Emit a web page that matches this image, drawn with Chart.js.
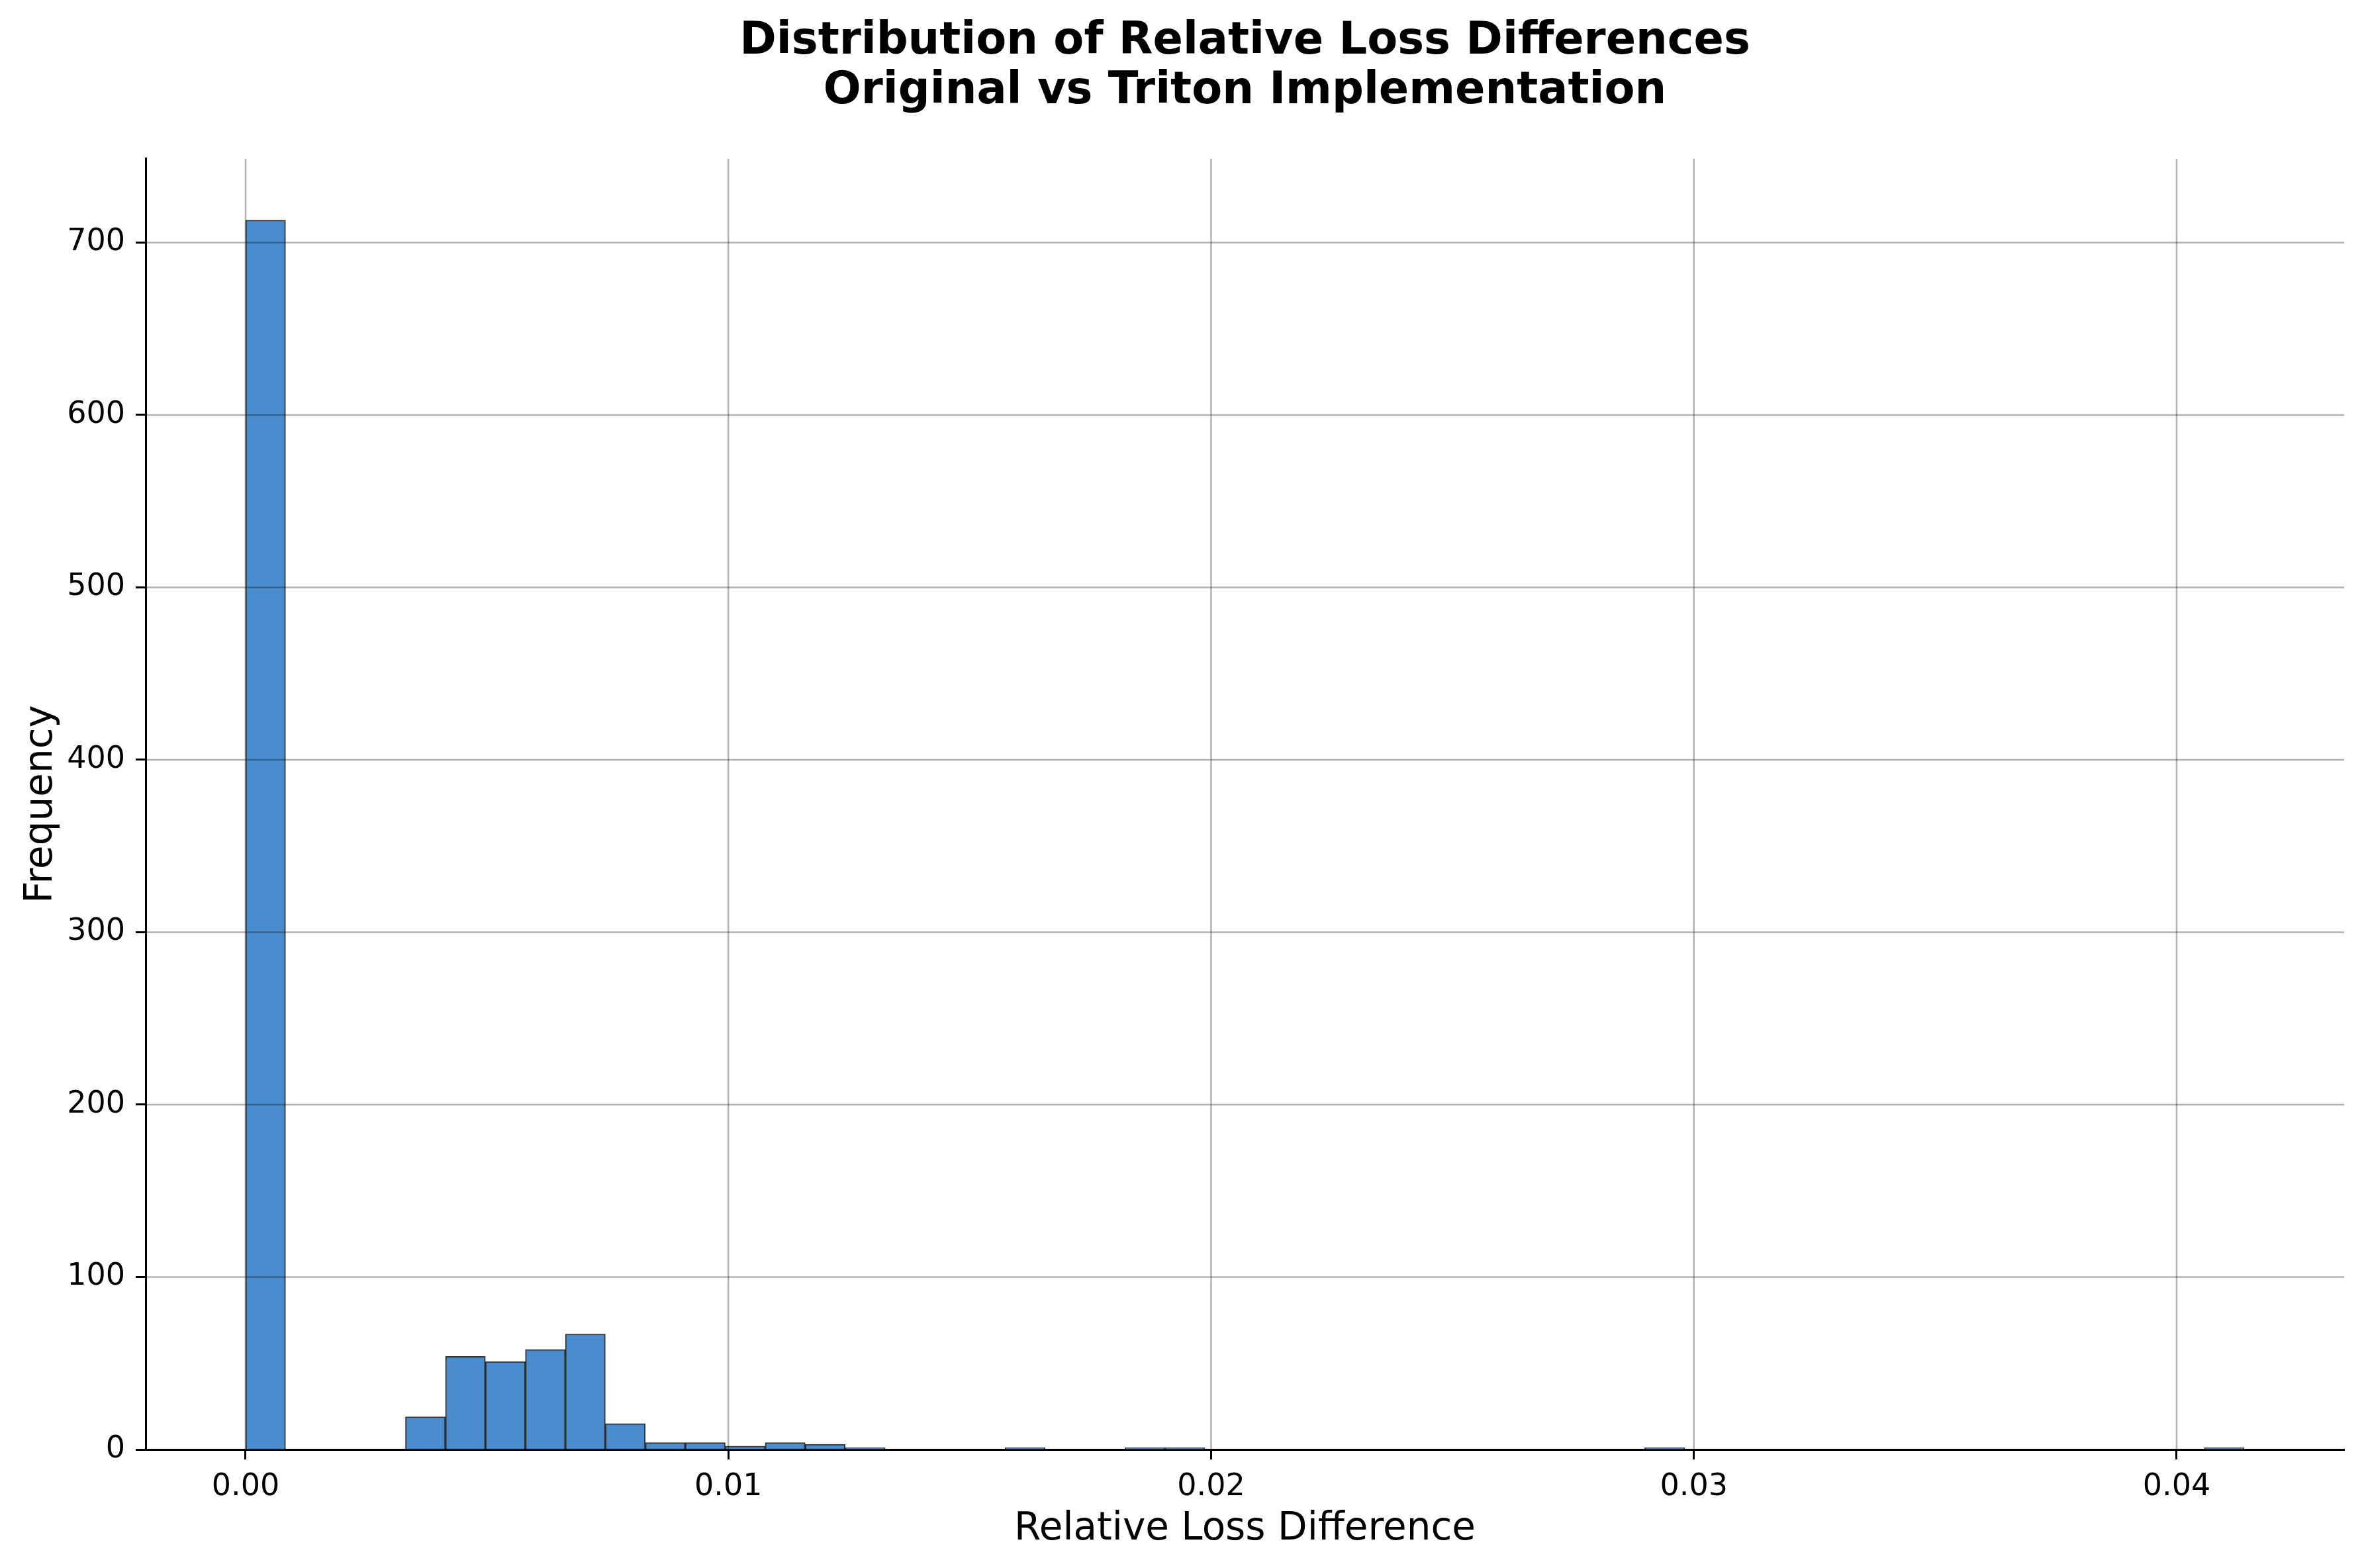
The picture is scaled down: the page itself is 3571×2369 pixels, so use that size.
<!DOCTYPE html>
<html>
<head>
<meta charset="utf-8">
<script src="https://cdn.jsdelivr.net/npm/chart.js@4.4.1/dist/chart.umd.min.js"></script>
<style>
  html, body { margin: 0; padding: 0; background: #fff; }
  canvas { display: block; }
</style>
</head>
<body>
<canvas id="hist" width="3571" height="2369"></canvas>
<script>
// histogram: 50 equal bins between binLow and binHigh
const binLow = 0;
const binHigh = 0.0414;
const counts = [
    713, 0, 0, 0, 19, 54, 51, 58, 67, 15,
    4, 4, 2, 4, 3, 1, 0, 0, 0, 1,
    0, 0, 1, 1, 0, 0, 0, 0, 0, 0,
    0, 0, 0, 0, 0, 1, 0, 0, 0, 0,
    0, 0, 0, 0, 0, 0, 0, 0, 0, 1
];
const xTicks = [0, 0.01, 0.02, 0.03, 0.04];
const yTicks = [0, 100, 200, 300, 400, 500, 600, 700];

document.addEventListener("DOMContentLoaded", function () {
    var ctx = document.getElementById('hist').getContext('2d');

    const binWidth = (binHigh - binLow) / counts.length;
    const points = counts.map((c, i) => ({ x: binLow + (i + 0.5) * binWidth, y: c }));

    Chart.defaults.font.family = "'DejaVu Sans', sans-serif";
    Chart.defaults.color = '#000';

    // matplotlib draws the grid on top of the bars here
    const gridOnTop = {
        id: 'gridOnTop',
        afterDatasetsDraw(chart) {
            const c = chart.ctx;
            const area = chart.chartArea;
            const xs = chart.scales.x, ys = chart.scales.y;
            c.save();
            c.strokeStyle = 'rgba(0, 0, 0, 0.3)';
            c.lineWidth = 2.5;
            xTicks.forEach(v => {
                const px = xs.getPixelForValue(v);
                c.beginPath();
                c.moveTo(px, area.top);
                c.lineTo(px, area.bottom);
                c.stroke();
            });
            yTicks.forEach(v => {
                const py = ys.getPixelForValue(v);
                c.beginPath();
                c.moveTo(area.left, py);
                c.lineTo(area.right, py);
                c.stroke();
            });
            c.restore();
        }
    };

    var chartData = {
        datasets: [{
            label: 'Relative Loss Difference',
            data: points,
            backgroundColor: '#4a8dce',
            borderColor: 'rgba(0, 0, 0, 0.8)',
            borderWidth: 2,
            barPercentage: 1.0,
            categoryPercentage: 1.0
        }]
    };

    var options = {
        responsive: false,
        maintainAspectRatio: false,
        devicePixelRatio: 1,
        animation: false,
        layout: {
            padding: { left: 0, right: 30, top: 0, bottom: 0 }
        },
        plugins: {
            legend: { display: false },
            tooltip: { enabled: false },
            title: {
                display: true,
                fullSize: false, // center over the axes, not the whole canvas
                text: ['Distribution of Relative Loss Differences', 'Original vs Triton Implementation'],
                font: { size: 67, weight: 'bold', lineHeight: 1.125 },
                color: '#000',
                padding: { top: 26, bottom: 63 }
            }
        },
        scales: {
            x: {
                type: 'linear',
                min: -0.00207,
                max: 0.04347,
                offset: false,
                afterBuildTicks: scale => { scale.ticks = xTicks.map(v => ({ value: v })); },
                afterFit: scale => { scale.height = 179; },
                ticks: {
                    font: { size: 46 },
                    padding: 14,
                    maxRotation: 0,
                    callback: v => v.toFixed(2)
                },
                grid: {
                    offset: false,
                    drawOnChartArea: false,
                    tickColor: '#000',
                    tickWidth: 3,
                    tickLength: 15
                },
                border: { color: '#000', width: 3 },
                title: {
                    display: true,
                    text: 'Relative Loss Difference',
                    font: { size: 58 },
                    padding: { top: 0, bottom: 23 }
                }
            },
            y: {
                min: 0,
                max: 748.65,
                afterBuildTicks: scale => { scale.ticks = yTicks.map(v => ({ value: v })); },
                afterFit: scale => { scale.width = 220; },
                ticks: {
                    font: { size: 46 },
                    padding: 16
                },
                grid: {
                    drawOnChartArea: false,
                    tickColor: '#000',
                    tickWidth: 3,
                    tickLength: 15
                },
                border: { color: '#000', width: 3 },
                title: {
                    display: true,
                    text: 'Frequency',
                    font: { size: 58 },
                    padding: { top: 28, bottom: 0 }
                }
            }
        }
    };

    new Chart(ctx, {
        type: 'bar',
        data: chartData,
        options: options,
        plugins: [gridOnTop]
    });
});
</script>
</body>
</html>
